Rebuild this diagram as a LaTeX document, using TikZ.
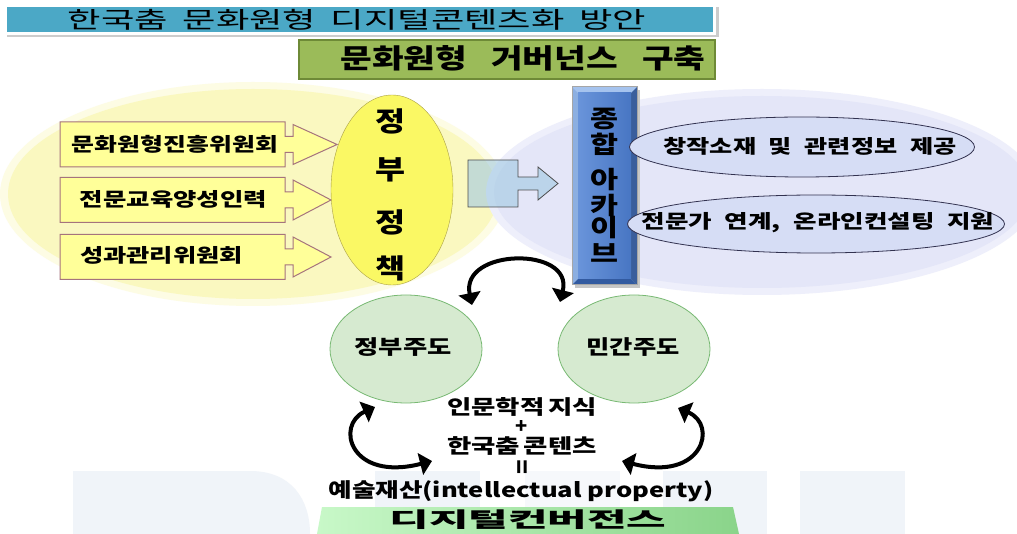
\documentclass[tikz,border=0pt]{standalone}
\usepackage{fontspec}
\setmainfont{Noto Sans CJK KR}
\usepackage{graphicx}
\usetikzlibrary{arrows.meta,shapes.geometric}
\newcommand\fw[2]{\resizebox{#1}{\height}{#2}}
\definecolor{titleblue}{RGB}{75,168,198}
\definecolor{gfill}{RGB}{155,187,89}
\definecolor{gborder}{RGB}{110,138,55}
\definecolor{yel0}{RGB}{253,252,228}
\definecolor{yel1}{RGB}{250,248,192}
\definecolor{lav0}{RGB}{238,239,251}
\definecolor{lav1}{RGB}{228,230,248}
\definecolor{boxyel}{RGB}{255,255,153}
\definecolor{boxbrd}{RGB}{165,115,125}
\definecolor{ellyel}{RGB}{250,248,100}
\definecolor{ellbrd}{RGB}{170,160,70}
\definecolor{barr}{RGB}{161,201,226}
\definecolor{archedge}{RGB}{140,175,225}
\definecolor{archtop}{RGB}{165,195,238}
\definecolor{archbot}{RGB}{50,90,160}
\definecolor{archL}{RGB}{105,148,218}
\definecolor{archR}{RGB}{72,118,195}
\definecolor{lavin}{RGB}{214,221,245}
\definecolor{ellin}{RGB}{50,50,80}
\definecolor{cfill}{RGB}{214,234,208}
\definecolor{cgreen}{RGB}{120,185,115}
\definecolor{bandL}{RGB}{200,248,200}
\definecolor{bandR}{RGB}{138,212,138}
\definecolor{wm}{RGB}{240,244,249}
\begin{document}
\begin{tikzpicture}[x=1pt,y=-1pt,
  kt/.style={inner sep=0pt, text=black, font=\bfseries\fontsize{19}{19}\selectfont},
  vt/.style={inner sep=0pt, text=black, font=\bfseries\fontsize{27}{27}\selectfont},
  archtxt/.style={inner sep=0pt, text=black, font=\bfseries\fontsize{24}{24}\selectfont},
  curv/.style={line width=4pt, {Triangle[width=22pt,length=12pt]}-{Triangle[width=22pt,length=12pt]}},
  callout/.style={fill=boxyel, draw=boxbrd, line width=1pt},
]
\useasboundingbox (0,0) rectangle (1017,534);
\fill[white] (0,0) rectangle (1017,534);

% faint watermark
\fill[wm] (73,534) -- (73,471) -- (250,471) .. controls (292,471) and (310,500) .. (310,534) -- cycle;
\fill[wm] (375,471) rectangle (480,534);
\fill[wm!60] (525,471) rectangle (620,534);
\fill[wm] (663,471) rectangle (767,534);
\fill[wm] (800,471) rectangle (905,534);

% title bar
\fill[gray!40] (7,7) rectangle (719,37);
\fill[white] (4,4) rectangle (716,35);
\fill[titleblue] (7,7) rectangle (713,32);
\node[inner sep=0pt, font=\fontsize{23}{23}\selectfont] (title) at (357,20)
  {\fw{578pt}{한국춤\hspace{.4em}문화원형\hspace{.4em}디지털콘텐츠화\hspace{.4em}방안}};

% governance box
\node[draw=gborder, line width=2pt, fill=gfill, minimum width=416pt, minimum height=39pt, inner sep=0pt, anchor=north west] (gov) at (298,39) {};
\node[kt, font=\bfseries\fontsize{27}{27}\selectfont] (govt) at (523,58)
  {\fw{365pt}{문화원형\hspace{.7em}거버넌스\hspace{.7em}구축}};

% big background ellipses
\fill[yel0] (253,194) ellipse [x radius=253pt, y radius=112pt];
\fill[yel1] (253,194) ellipse [x radius=245pt, y radius=105pt];
\fill[lav0] (762,192) ellipse [x radius=276pt, y radius=103pt];
\fill[lav1] (762,192) ellipse [x radius=268pt, y radius=96pt];

% callouts
\foreach \c/\t in {144.5/337,200/331,257/331} {
  \filldraw[callout] (60,\c-22.5) -- (285,\c-22.5) -- (285,\c-8) -- (293,\c-8) -- (293,\c-20)
    -- (\t,\c) -- (293,\c+20) -- (293,\c+8) -- (285,\c+8) -- (285,\c+22.5) -- (60,\c+22.5) -- cycle;
}
\node[kt] (b1) at (175,144) {\fw{206pt}{문화원형진흥위원회}};
\node[kt] (b2) at (173.5,199) {\fw{187pt}{전문교육양성인력}};
\node[kt] (b3) at (161.5,255) {\fw{163pt}{성과관리위원회}};

% government policy ellipse
\node[ellipse, draw=ellbrd, fill=ellyel, minimum width=122pt, minimum height=190pt, inner sep=0pt] (gp) at (392,190) {};
\node[vt] (gp1) at (390,121) {\fw{30pt}{정}};
\node[vt] (gp2) at (390,170) {\fw{30pt}{부}};
\node[vt] (gp3) at (390,222) {\fw{30pt}{정}};
\node[vt] (gp4) at (390,268) {\fw{30pt}{책}};

% block arrow
\filldraw[fill=barr, fill opacity=0.6, draw=gray!60!black, line width=0.8pt]
  (468,160) -- (518,160) -- (518,177) -- (538,177) -- (538,167) -- (558,183.5)
  -- (538,200) -- (538,190) -- (518,190) -- (518,207) -- (468,207) -- cycle;

% archive bar
\fill[gray!45] (575,90) rectangle (640,288);
\fill[archedge] (572,87) rectangle (637,285);
\fill[archtop] (572,87) -- (637,87) -- (631,93) -- (578,93) -- cycle;
\fill[archbot] (572,285) -- (637,285) -- (631,279) -- (578,279) -- cycle;
\fill[archR!80!black] (637,87) -- (637,285) -- (631,279) -- (631,93) -- cycle;
\shade[left color=archL, right color=archR] (578,93) rectangle (631,279);
\draw[gray!70, line width=1pt] (572,87) rectangle (637,285);
\node[archtxt] (a1) at (604.5,119) {\fw{28pt}{종}};
\node[archtxt] (a2) at (604.5,144) {\fw{28pt}{합}};
\node[archtxt] (a3) at (604.5,180) {\fw{28pt}{아}};
\node[archtxt] (a4) at (604.5,205) {\fw{28pt}{카}};
\node[archtxt] (a5) at (604.5,228) {\fw{28pt}{이}};
\node[archtxt] (a6) at (604.5,253) {\fw{28pt}{브}};

% inner lavender ellipses
\node[ellipse, draw=ellin, fill=lavin, line width=0.8pt, minimum width=345pt, minimum height=60pt, inner sep=0pt] (e1) at (802,147) {};
\node[ellipse, draw=ellin, fill=lavin, line width=0.8pt, minimum width=377pt, minimum height=58pt, inner sep=0pt] (e2) at (816,224) {};
\node[kt] (e1t) at (810,146) {\fw{293pt}{창작소재\hspace{.5em}및\hspace{.5em}관련정보\hspace{.5em}제공}};
\node[kt] (e2t) at (818,223) {\fw{353pt}{전문가\hspace{.5em}연계,\hspace{.5em}온라인컨설팅\hspace{.5em}지원}};

% circles
\node[ellipse, draw=cgreen, fill=cfill, line width=0.8pt, minimum width=152pt, minimum height=108pt, inner sep=0pt] (c1) at (406,349) {};
\node[ellipse, draw=cgreen, fill=cfill, line width=0.8pt, minimum width=152pt, minimum height=108pt, inner sep=0pt] (c2) at (634,349) {};
\node[kt, font=\bfseries\fontsize{20}{20}\selectfont] (c1t) at (403,347) {\fw{97pt}{정부주도}};
\node[kt, font=\bfseries\fontsize{20}{20}\selectfont] (c2t) at (633,347) {\fw{93pt}{민간주도}};

% curved arrows
\coordinate (tL) at (472,305);
\coordinate (tR) at (560,302);
\draw[curv] (tL) .. controls (460,248) and (574,246) .. (tR);
\coordinate (lU) at (375,407);
\coordinate (lD) at (432,461);
\draw[curv] (lU) .. controls (335,425) and (350,482) .. (lD);
\coordinate (rU) at (678,408);
\coordinate (rD) at (622,461);
\draw[curv] (rU) .. controls (718,425) and (703,482) .. (rD);

% middle text
\node[kt, font=\bfseries\fontsize{20}{20}\selectfont] (m1) at (522,406.5) {\fw{150pt}{인문학적\hspace{.15em}지식}};
\node[kt, font=\bfseries\fontsize{20}{20}\selectfont] (m2) at (522,427) {+};
\node[kt, font=\bfseries\fontsize{20}{20}\selectfont] (m3) at (522,446) {\fw{150pt}{한국춤\hspace{.15em}콘텐츠}};
\node[kt, font=\bfseries\fontsize{24}{24}\selectfont] (m4) at (525,467) {\rotatebox{90}{=}};
\node[kt, font=\bfseries\fontsize{20}{20}\selectfont] (m5) at (521,491) {\fw{385pt}{예술재산(intellectual property)}};

% bottom band
\shade[left color=bandL, right color=bandR] (322,507) -- (733,507) -- (739,534) -- (317,534) -- cycle;
\node[kt, font=\bfseries\fontsize{21}{21}\selectfont] (dc) at (528,520) {\fw{277pt}{디지털컨버전스}};
\end{tikzpicture}
\end{document}
